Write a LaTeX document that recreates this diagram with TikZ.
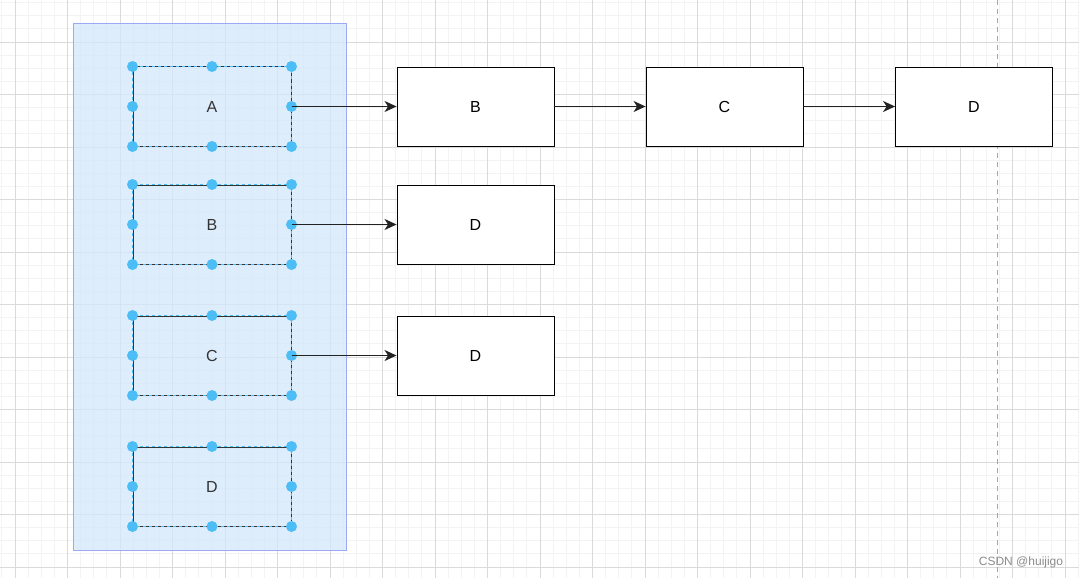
\documentclass[tikz,border=0pt]{standalone}
\usepackage{fontspec}
\setmainfont{Liberation Sans}
\usetikzlibrary{arrows.meta}
\definecolor{handle}{HTML}{4CBDF5}
\definecolor{groupfill}{HTML}{D3E8FC}
\definecolor{groupline}{HTML}{9DA8F6}
\definecolor{gridmajor}{HTML}{DADADA}
\definecolor{gridminor}{HTML}{F3F3F3}
\definecolor{inkgray}{HTML}{333333}
\definecolor{linkgray}{HTML}{222222}
\tikzset{
  item/.style={draw=black, line width=0.9pt, fill=white, minimum width=157pt,
    minimum height=79pt, inner sep=0pt, font=\fontsize{16}{18}\selectfont},
  picked/.style={draw=inkgray, line width=1pt, minimum width=158pt, minimum height=79pt,
    inner sep=0pt, text=inkgray, font=\fontsize{16}{18}\selectfont},
  link/.style={-{Stealth[length=12pt,width=11pt,inset=3.5pt]}, line width=1.4pt, draw=linkgray}
}
\begin{document}
\begin{tikzpicture}[x=1pt,y=-1pt,line cap=butt]
  \useasboundingbox (0,0) rectangle (1079,578);
  \fill[white] (0,0) rectangle (1079,578);
  \foreach \i in {0,...,82} {
    \draw[gridminor, line width=0.8pt] (1.875+13.125*\i,0) -- (1.875+13.125*\i,578);
  }
  \foreach \i in {0,...,44} {
    \draw[gridminor, line width=0.8pt] (0,2.625+13.125*\i) -- (1079,2.625+13.125*\i);
  }
  \foreach \i in {0,...,20} {
    \draw[gridmajor, line width=0.9pt] (15+52.5*\i,0) -- (15+52.5*\i,578);
  }
  \foreach \i in {0,...,11} {
    \draw[gridmajor, line width=0.9pt] (0,-10.5+52.5*\i) -- (1079,-10.5+52.5*\i);
  }
  \draw[gray!70, line width=1pt, dash pattern=on 5pt off 4pt] (997,0) -- (997,578);
  \draw[groupline, fill=groupfill, fill opacity=0.75, line width=0.9pt] (73.5,23.5) rectangle (346.5,550.5);
  \node[picked] (sA) at (212,106.5) {A};
  \node[picked] (sB) at (212,224.5) {B};
  \node[picked] (sC) at (212,355.5) {C};
  \node[picked] (sD) at (212,486.5) {D};
  \node[item] (tB) at (475.5,106.5) {B};
  \node[item] (tC) at (724.5,106.5) {C};
  \node[item] (tD) at (974,106.5) {D};
  \node[item] (uD) at (475.5,224.5) {D};
  \node[item] (vD) at (475.5,355.5) {D};
  \foreach \n in {sA,sB,sC,sD} {
    \draw[handle, line width=1pt, dash pattern=on 3pt off 3pt] (\n.north west) rectangle (\n.south east);
    \foreach \a in {north west,north,north east,east,south east,south,south west,west}
      \fill[handle] (\n.\a) circle[radius=5.5];
  }
  \draw[link] (sA.east) -- (tB.west);
  \draw[link] (tB.east) -- (tC.west);
  \draw[link] (tC.east) -- (tD.west);
  \draw[link] (sB.east) -- (uD.west);
  \draw[link] (sC.east) -- (vD.west);
  \node[text=gray!90, font=\fontsize{12}{14}\selectfont, inner sep=0pt] (mark) at (1021,562) {CSDN @huijigo};
\end{tikzpicture}
\end{document}
